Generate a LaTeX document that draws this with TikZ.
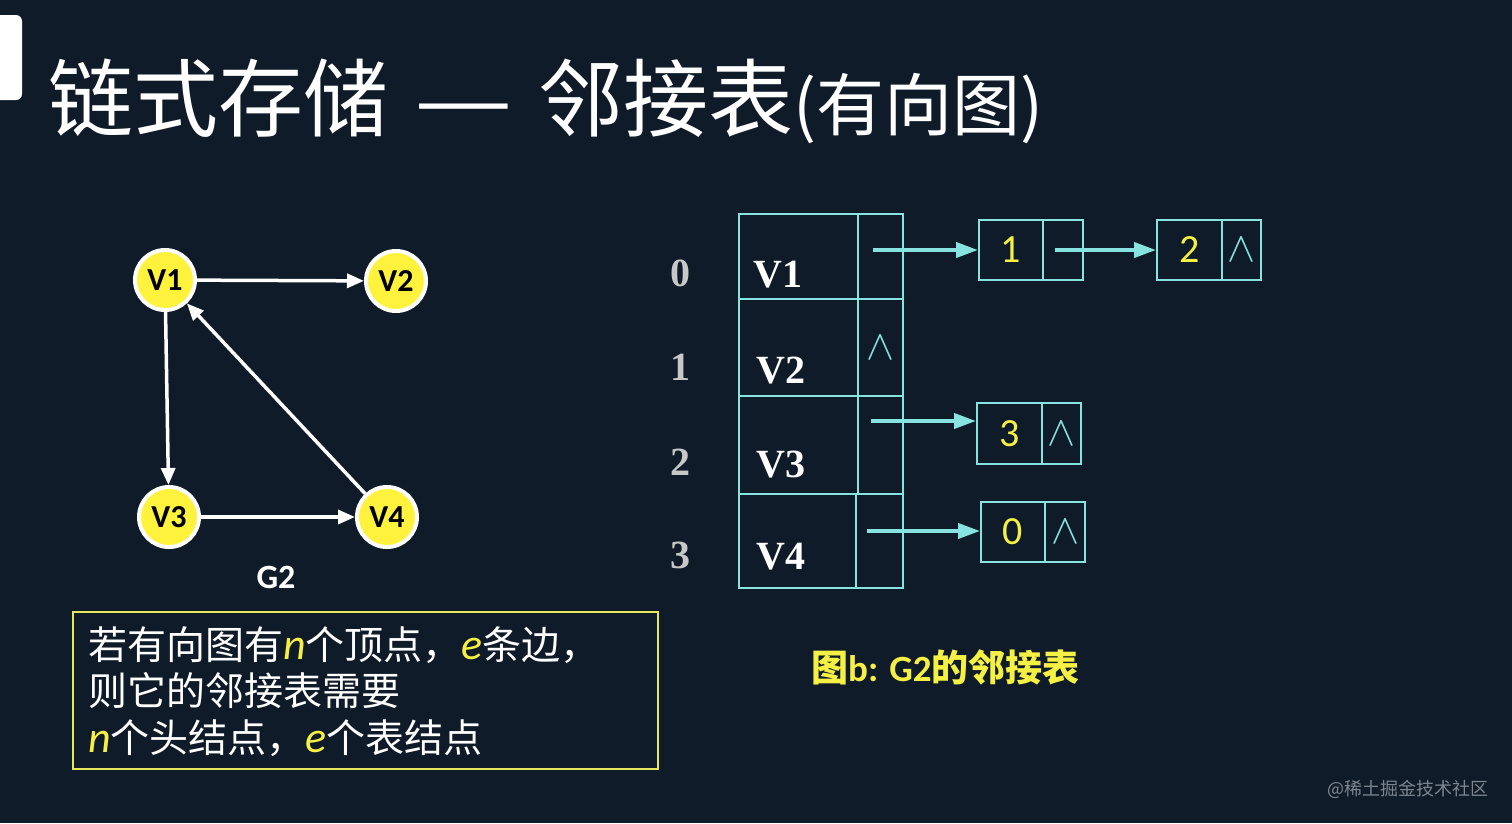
\documentclass[tikz,border=0pt]{standalone}
\usepackage{fontspec}
\usetikzlibrary{arrows.meta}
\newfontfamily\cjk{Noto Sans CJK SC}
\newfontfamily\carl{Carlito}
\newfontfamily\tms{Liberation Serif}
\definecolor{bg}{HTML}{0F1B28}
\definecolor{vyel}{HTML}{FFF23C}
\definecolor{cyn}{HTML}{86E3E0}
\definecolor{txtyel}{HTML}{F5F044}
\definecolor{boxyel}{HTML}{E6E65A}
\definecolor{idxgray}{HTML}{C8C8C8}
\definecolor{wmgray}{HTML}{7D8590}
\newcommand\hlv[1]{{\color{txtyel}\carl\itshape\fontsize{44}{46}\selectfont #1}}
\newcommand\wdg{\scalebox{4.2}{$\wedge$}}
\begin{document}
\begin{tikzpicture}[x=1pt,y=-1pt,
  vert/.style={circle, fill=vyel, draw=white, line width=4pt, minimum size=60pt, inner sep=0pt,
    text=black, font=\carl\bfseries\fontsize{32}{32}\selectfont},
  garrow/.style={draw=white, line width=3.5pt, -{Triangle[length=17pt,width=14pt]}},
  carrow/.style={draw=cyn, line width=4pt, -{Triangle[length=22pt,width=15pt]}},
  hcell/.style={draw=cyn, line width=2pt, anchor=north west, inner sep=0pt, text=cyn},
  lcell/.style={draw=cyn, line width=2pt, inner sep=0pt, minimum height=60pt, text=txtyel,
    font=\carl\fontsize{40}{40}\selectfont},
  lptr/.style={draw=cyn, line width=2pt, inner sep=0pt, minimum height=60pt, text=cyn},
  vlab/.style={anchor=base west, inner sep=0pt, text=white, font=\tms\bfseries\fontsize{40}{40}\selectfont},
  ilab/.style={inner sep=0pt, text=idxgray, font=\tms\bfseries\fontsize{40}{40}\selectfont},
  boxtxt/.style={anchor=base west, inner sep=0pt, text=white, font=\cjk\fontsize{39}{46}\selectfont}
]
\fill[bg] (0,0) rectangle (1512,823);
\useasboundingbox (0,0) rectangle (1512,823);

% title
\fill[white, rounded corners=6pt] (-10,15) rectangle (22,100);
\node[anchor=base west, inner sep=0pt, text=white] (title) at (48,130)
  {\cjk\fontsize{85}{90}\selectfont 链式存储\hspace{26pt}\scalebox{1.3}[1]{—}\hspace{26pt}邻接表{\fontsize{68}{70}\selectfont (有向图)}};

% graph G2
\node[vert] (v1) at (165,280) {V1};
\node[vert] (v2) at (396,281) {V2};
\node[vert] (v3) at (169,517) {V3};
\node[vert] (v4) at (387,517) {V4};
\draw[garrow] (v1) -- (v2);
\draw[garrow] (v1) -- (v3);
\draw[garrow] (v4) -- (v1);
\draw[garrow] (v3) -- (v4);
\node[text=white, font=\carl\bfseries\fontsize{34}{34}\selectfont] (g2) at (276,577) {G2};

% text box
\node[draw=boxyel, line width=2pt, anchor=north west, inner sep=0pt,
  minimum width=585pt, minimum height=157pt] (box) at (72,611) {};
\node[boxtxt] (t1) at (88,659) {若有向图有\hlv{n}个顶点，\hlv{e}条边，};
\node[boxtxt] (t2) at (88,705) {则它的邻接表需要};
\node[boxtxt] (t3) at (88,752) {\hlv{n}个头结点，\hlv{e}个表结点};

% head table
\node[hcell, minimum width=119pt, minimum height=85pt] (h0d) at (738,213) {};
\node[hcell, minimum width=45pt, minimum height=85pt] (h0p) at (857,213) {};
\node[hcell, minimum width=119pt, minimum height=97pt] (h1d) at (738,298) {};
\node[hcell, minimum width=45pt, minimum height=97pt] (h1p) at (857,298) {\wdg};
\node[hcell, minimum width=119pt, minimum height=98pt] (h2d) at (738,395) {};
\node[hcell, minimum width=45pt, minimum height=98pt] (h2p) at (857,395) {};
\node[hcell, minimum width=117pt, minimum height=94pt] (h3d) at (738,493) {};
\node[hcell, minimum width=47pt, minimum height=94pt] (h3p) at (855,493) {};

\node[vlab] (l0) at (753,287) {V1};
\node[vlab] (l1) at (756,383) {V2};
\node[vlab] (l2) at (756,477) {V3};
\node[vlab] (l3) at (756,569) {V4};

\node[ilab] (i0) at (680,273) {0};
\node[ilab] (i1) at (680,367) {1};
\node[ilab] (i2) at (680,462) {2};
\node[ilab] (i3) at (680,555) {3};

% list nodes
\node[lcell, minimum width=64pt] (n1d) at (1011,250) {1};
\node[lptr, minimum width=40pt] (n1p) at (1063,250) {};
\node[lcell, minimum width=65pt] (n2d) at (1189.5,250) {2};
\node[lptr, minimum width=39pt] (n2p) at (1241.5,250) {\wdg};
\node[lcell, minimum width=65pt, minimum height=61pt] (n3d) at (1009.5,433.5) {3};
\node[lptr, minimum width=39pt, minimum height=61pt] (n3p) at (1061.5,433.5) {\wdg};
\node[lcell, minimum width=64pt] (n4d) at (1013,532) {0};
\node[lptr, minimum width=40pt] (n4p) at (1065,532) {\wdg};

\coordinate (a0) at (873,250);
\coordinate (a1) at (1055,250);
\coordinate (a2) at (871,421);
\coordinate (a3) at (867,531);
\draw[carrow] (a0) -- (a0 -| n1d.west);
\draw[carrow] (a1) -- (a1 -| n2d.west);
\draw[carrow] (a2) -- (a2 -| n3d.west);
\draw[carrow] (a3) -- (a3 -| n4d.west);

% caption
\node[anchor=base west, inner sep=0pt, text=txtyel] (cap) at (811,681)
  {\fontsize{37}{40}\selectfont\cjk\bfseries 图{\carl\bfseries b: G2}的邻接表};

% watermark
\node[anchor=base west, inner sep=0pt, text=wmgray] (wm) at (1327,795)
  {\cjk\fontsize{18}{20}\selectfont @稀土掘金技术社区};
\end{tikzpicture}
\end{document}
